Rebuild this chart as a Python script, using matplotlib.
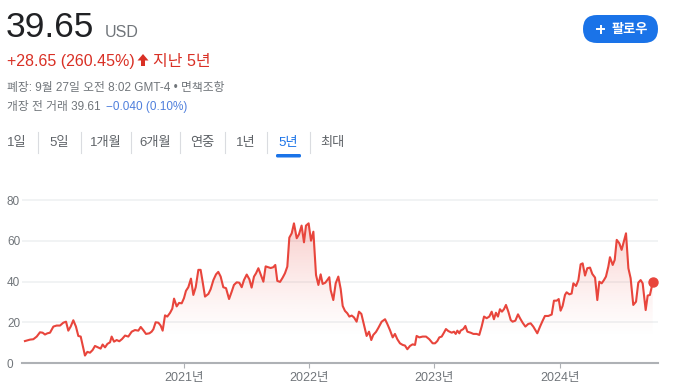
import numpy as np
import matplotlib
matplotlib.use('Agg')
import matplotlib.pyplot as plt
from matplotlib.patches import FancyBboxPatch, Polygon
from matplotlib.colors import to_rgb

plt.rcParams['font.family'] = ['Liberation Sans', 'Noto Sans CJK KR', 'DejaVu Sans']

# ---------------- data ----------------
years = [
    2019.733, 2019.773, 2019.800, 2019.827, 2019.853, 2019.874, 2019.893, 2019.912, 2019.933, 2019.960,
    2019.986, 2020.013, 2020.039, 2020.061, 2020.079, 2020.098, 2020.119, 2020.140, 2020.159, 2020.178,
    2020.212, 2020.231, 2020.252, 2020.273, 2020.292, 2020.319, 2020.337, 2020.353, 2020.372, 2020.391,
    2020.412, 2020.425, 2020.444, 2020.465, 2020.486, 2020.508, 2020.532, 2020.558, 2020.585, 2020.611,
    2020.638, 2020.657, 2020.678, 2020.699, 2020.726, 2020.744, 2020.758, 2020.776, 2020.798, 2020.816,
    2020.832, 2020.851, 2020.869, 2020.891, 2020.909, 2020.923, 2020.944, 2020.963, 2020.984, 2021.002,
    2021.018, 2021.037, 2021.058, 2021.077, 2021.096, 2021.117, 2021.135, 2021.151, 2021.170, 2021.197,
    2021.215, 2021.237, 2021.258, 2021.276, 2021.295, 2021.316, 2021.338, 2021.362, 2021.383, 2021.401,
    2021.423, 2021.444, 2021.463, 2021.481, 2021.503, 2021.524, 2021.542, 2021.561, 2021.577, 2021.596,
    2021.614, 2021.636, 2021.654, 2021.675, 2021.694, 2021.715, 2021.731, 2021.747, 2021.769, 2021.790,
    2021.808, 2021.827, 2021.843, 2021.862, 2021.880, 2021.902, 2021.920, 2021.941, 2021.960, 2021.976,
    2021.997, 2022.016, 2022.035, 2022.056, 2022.075, 2022.093, 2022.109, 2022.130, 2022.146, 2022.162,
    2022.173, 2022.194, 2022.213, 2022.234, 2022.253, 2022.269, 2022.287, 2022.306, 2022.322, 2022.341,
    2022.359, 2022.380, 2022.399, 2022.418, 2022.439, 2022.460, 2022.479, 2022.497, 2022.513, 2022.535,
    2022.553, 2022.580, 2022.607, 2022.625, 2022.646, 2022.668, 2022.686, 2022.705, 2022.726, 2022.748,
    2022.766, 2022.785, 2022.806, 2022.827, 2022.846, 2022.859, 2022.881, 2022.907, 2022.934, 2022.960,
    2022.987, 2023.006, 2023.024, 2023.040, 2023.059, 2023.077, 2023.093, 2023.112, 2023.139, 2023.157,
    2023.171, 2023.184, 2023.200, 2023.210, 2023.232, 2023.248, 2023.264, 2023.290, 2023.312, 2023.338,
    2023.359, 2023.378, 2023.397, 2023.418, 2023.439, 2023.458, 2023.476, 2023.492, 2023.508, 2023.524,
    2023.540, 2023.556, 2023.572, 2023.591, 2023.610, 2023.625, 2023.647, 2023.668, 2023.684, 2023.705,
    2023.727, 2023.750, 2023.769, 2023.790, 2023.822, 2023.844, 2023.865, 2023.883, 2023.910, 2023.937,
    2023.955, 2023.977, 2023.993, 2024.008, 2024.024, 2024.043, 2024.056, 2024.078, 2024.096, 2024.110,
    2024.131, 2024.150, 2024.168, 2024.184, 2024.203, 2024.221, 2024.243, 2024.261, 2024.283, 2024.301,
    2024.317, 2024.336, 2024.354, 2024.370, 2024.389, 2024.402, 2024.424, 2024.440, 2024.456, 2024.477,
    2024.495, 2024.509, 2024.530, 2024.549, 2024.567, 2024.588, 2024.610, 2024.628, 2024.647, 2024.663,
    2024.687, 2024.703, 2024.721, 2024.743,
]
prices = [
    10.9, 11.6, 11.8, 13.1, 15.2, 15.0, 14.1, 14.7, 15.0, 18.0,
    18.5, 18.5, 19.9, 20.4, 16.0, 18.0, 21.1, 18.0, 13.4, 13.1,
    3.8, 5.6, 5.2, 6.5, 8.5, 7.7, 7.2, 9.2, 7.8, 9.5,
    10.3, 13.1, 10.6, 11.4, 10.8, 11.9, 13.6, 13.1, 15.5, 16.3,
    16.0, 17.8, 16.2, 14.4, 14.7, 15.5, 16.7, 20.1, 19.9, 18.5,
    16.0, 23.5, 22.9, 24.7, 26.8, 31.7, 27.9, 29.6, 29.4, 31.9,
    35.5, 37.3, 41.5, 33.5, 37.3, 45.8, 45.8, 40.0, 32.7, 34.0,
    36.3, 40.8, 43.6, 44.8, 42.5, 37.3, 36.8, 31.5, 35.1, 38.4,
    39.7, 39.5, 37.3, 40.8, 43.5, 41.2, 37.1, 42.5, 44.1, 46.6,
    43.6, 40.0, 47.5, 47.1, 46.7, 47.1, 48.2, 40.4, 39.9, 42.0,
    44.1, 47.4, 61.6, 63.7, 68.6, 61.3, 63.2, 67.5, 59.3, 67.5,
    68.6, 60.1, 64.5, 43.3, 38.4, 43.6, 38.9, 39.5, 40.8, 42.2,
    35.9, 31.0, 39.2, 42.5, 36.4, 28.1, 25.7, 24.5, 22.9, 23.4,
    22.5, 20.4, 25.3, 24.2, 18.8, 13.4, 15.5, 11.4, 13.9, 15.4,
    17.3, 20.4, 21.6, 19.3, 16.3, 12.7, 14.4, 11.8, 9.8, 9.0,
    8.7, 6.9, 8.5, 9.3, 9.0, 13.4, 12.7, 13.1, 13.1, 11.8,
    9.8, 9.8, 10.9, 12.7, 13.1, 15.0, 16.8, 15.8, 15.0, 15.5,
    14.4, 16.0, 14.7, 16.0, 16.8, 18.3, 15.5, 15.0, 14.4, 14.4,
    13.9, 18.0, 22.9, 22.1, 22.9, 25.3, 21.6, 24.8, 22.9, 26.5,
    25.3, 26.5, 28.6, 25.3, 21.2, 20.4, 20.9, 24.0, 22.1, 19.9,
    18.0, 19.3, 19.6, 18.0, 14.7, 18.0, 20.9, 23.2, 23.2, 23.9,
    30.7, 30.7, 31.5, 25.8, 28.1, 33.5, 34.8, 33.8, 34.2, 39.2,
    37.9, 40.8, 48.5, 49.0, 43.0, 46.6, 46.9, 43.8, 42.0, 31.0,
    40.0, 39.2, 40.8, 42.5, 47.4, 52.0, 48.2, 50.7, 60.5, 58.8,
    55.6, 58.8, 63.7, 46.6, 41.7, 28.6, 30.2, 39.5, 40.8, 39.2,
    26.1, 33.2, 33.5, 39.65,
]
y_ticks = [0, 20, 40, 60, 80]
x_ticks = [2021, 2022, 2023, 2024]
x_tick_labels = ['2021년', '2022년', '2023년', '2024년']
tabs = ['1일', '5일', '1개월', '6개월', '연중', '1년', '5년', '최대']
active_tab = '5년'

price_text = '39.65'
currency = 'USD'
change_text = '+28.65 (260.45%)'
period_text = '지난 5년'
close_text = '폐장: 9월 27일 오전 8:02 GMT-4 • 면책조항'
pre_text = '개장 전 거래 39.61'
pre_change = '−0.040 (0.10%)'

# ---------------- figure ----------------
W, H = 697, 389
fig = plt.figure(figsize=(W / 100, H / 100), dpi=100)

LINE = '#e8453c'
GRAY = '#70757a'

ax_l, ax_r, ax_b, ax_t = 22, 657.7, 363.3, 196.0
ax = fig.add_axes([ax_l / W, (H - ax_b) / H, (ax_r - ax_l) / W, (ax_b - ax_t) / H])
ax.set_facecolor('none')
x0, x1 = 2019.7095, 2024.783
ymax = 82
ax.set_xlim(x0, x1)
ax.set_ylim(0, ymax)

for v in y_ticks[1:]:
    ax.axhline(v, color='#f1f3f4', lw=1.4, zorder=0)

# gradient fill under line (fades out towards the bottom)
poly = ax.fill_between(years, prices, 0, facecolor='none', edgecolor='none')
n = 256
top = max(prices)
lev = np.linspace(0, top, n)
rgba = np.zeros((n, 1, 4))
rgba[..., :3] = to_rgb(LINE)
rgba[:, 0, 3] = 0.26 * np.clip((lev - 12) / (top - 12), 0, 1) ** 1.3
im = ax.imshow(rgba, extent=[x0, x1, 0, top], origin='lower', aspect='auto', zorder=1,
               interpolation='bilinear')
im.set_clip_path(poly.get_paths()[0], transform=ax.transData)
ax.set_xlim(x0, x1)
ax.set_ylim(0, ymax)

ax.plot(years, prices, color=LINE, lw=1.5, zorder=3, solid_joinstyle='round')
ax.plot([years[-1]], [prices[-1]], 'o', color=LINE, ms=6.5, zorder=4)

for s in ['top', 'right', 'left']:
    ax.spines[s].set_visible(False)
ax.spines['bottom'].set_color('#aeb1b5')
ax.spines['bottom'].set_linewidth(1.5)

ax.set_yticks(y_ticks)
ax.set_yticklabels([str(v) for v in y_ticks])
ax.tick_params(axis='y', length=0, pad=10.8, labelsize=8.5, labelcolor=GRAY)
for lab in ax.get_yticklabels():
    lab.set_horizontalalignment('left')

ax.set_xticks(x_ticks)
ax.set_xticklabels(x_tick_labels)
ax.tick_params(axis='x', length=3.6, width=0.8, color='#aeb1b5', pad=3.0,
               labelsize=9, labelcolor=GRAY)

# ---------------- header overlay (pixel coords) ----------------
ov = fig.add_axes([0, 0, 1, 1], zorder=-1)
ov.set_xlim(0, W)
ov.set_ylim(H, 0)
ov.axis('off')

ov.text(6, 37, price_text, fontsize=25.5, color='#202124', va='baseline', ha='left')
ov.text(105, 37, currency, fontsize=11.5, color=GRAY, va='baseline', ha='left')

RED = '#d93025'
ov.text(7, 66, change_text, fontsize=11.5, color=RED, va='baseline', ha='left')
ov.add_patch(Polygon([[137.5, 60.5], [143, 54], [148.5, 60.5], [145, 60.5], [145, 66],
                      [141, 66], [141, 60.5]], closed=True, color=RED, lw=0))
ov.text(153, 66, period_text, fontsize=11.5, color=RED, va='baseline', ha='left')

ov.text(7, 88, close_text, fontsize=8.5, color=GRAY, va='center', ha='left')
ov.text(7, 106.5, pre_text, fontsize=8.5, color=GRAY, va='center', ha='left')
ov.text(106, 106.5, pre_change, fontsize=8.5, color='#4f7fdc', va='center', ha='left')

# tabs
tab_centers = [16.5, 59.5, 105.5, 155.5, 202.5, 245.5, 288.5, 332]
seps = [38, 81, 131, 180, 225, 267, 310]
for t, cx in zip(tabs, tab_centers):
    c = '#1a73e8' if t == active_tab else '#5f6368'
    ov.text(cx, 143, t, fontsize=9.5, color=c, va='center', ha='center')
for sx in seps:
    ov.plot([sx, sx], [132, 153], color='#dadce0', lw=0.8)
ov.add_patch(FancyBboxPatch((276, 154), 25, 3.5, boxstyle='round,pad=0,rounding_size=1.5',
                            color='#1a73e8', lw=0))

# follow button
ov.add_patch(FancyBboxPatch((583, 15), 75, 28, boxstyle='round,pad=0,rounding_size=14',
                            facecolor='#1a73e8', edgecolor='none'))
ov.plot([596, 605], [29, 29], color='white', lw=1.4, solid_capstyle='butt')
ov.plot([600.5, 600.5], [24.5, 33.5], color='white', lw=1.4, solid_capstyle='butt')
ov.text(629.5, 29.5, '팔로우', fontsize=9.5, color='white', fontweight='bold',
        va='center', ha='center')

fig.savefig('out.png', dpi=100)
